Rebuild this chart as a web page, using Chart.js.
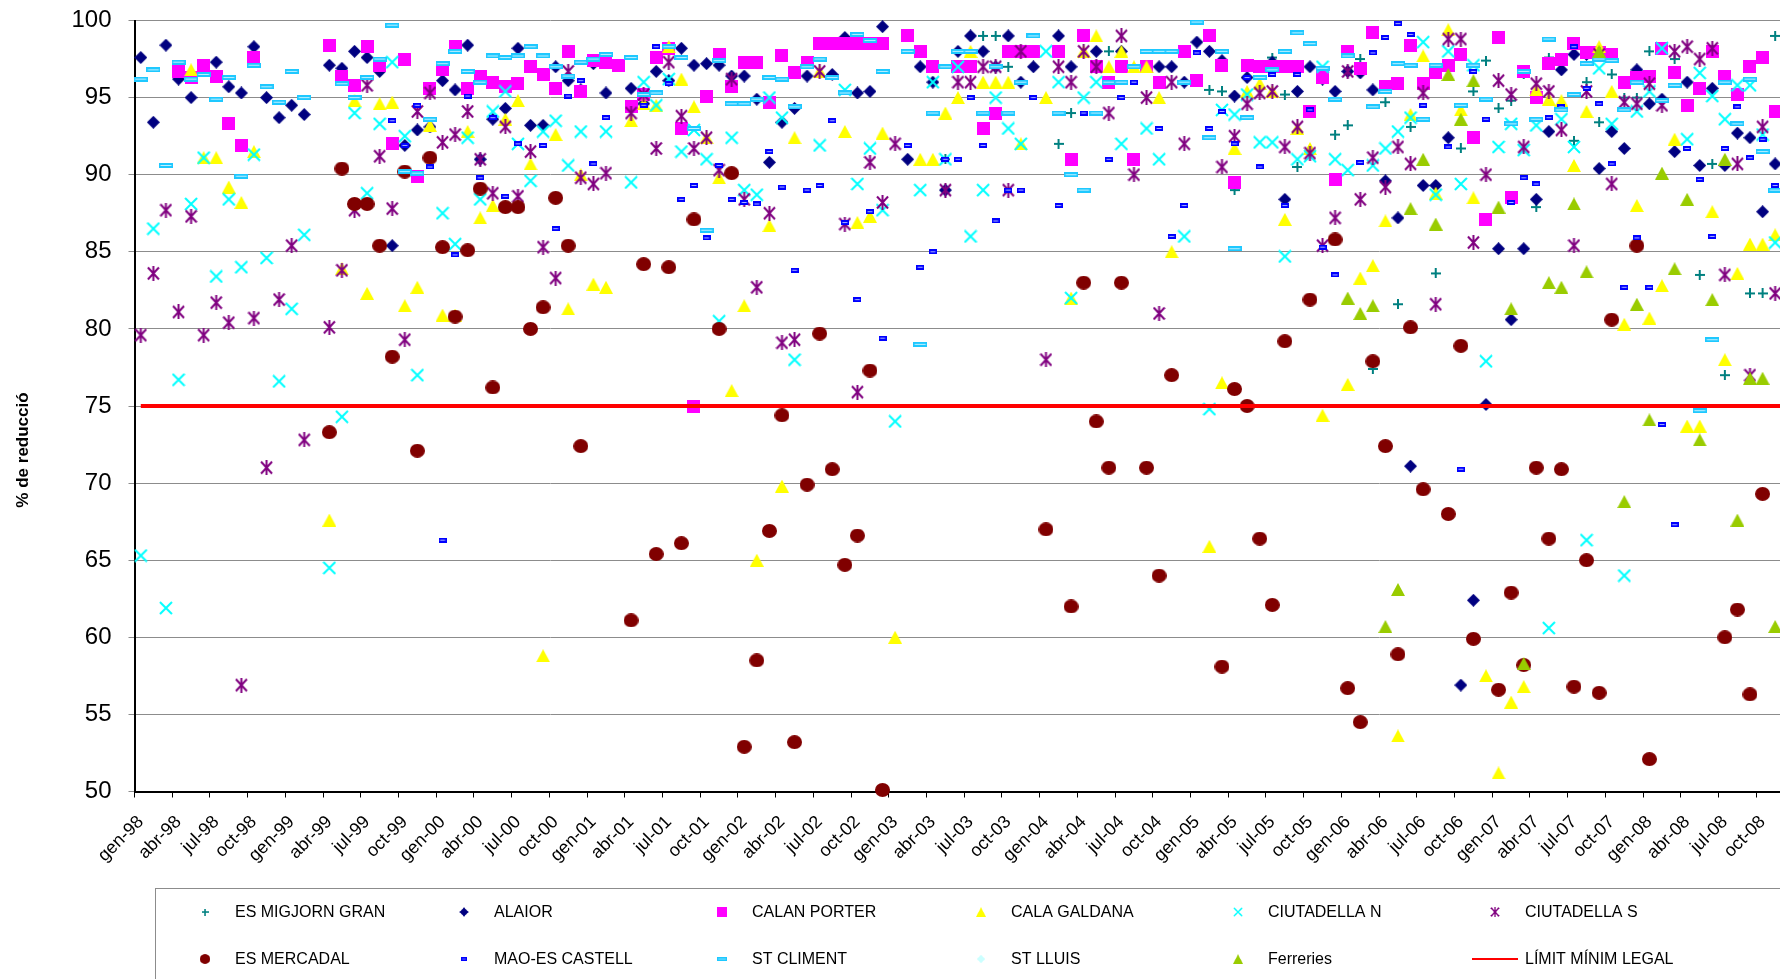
<!DOCTYPE html>
<html>
<head>
<meta charset="utf-8">
<script src="https://cdn.jsdelivr.net/npm/chart.js@4.4.1/dist/chart.umd.min.js"></script>
<style>
  html, body { margin: 0; padding: 0; background: #fff; overflow: hidden; }
  #wrap { position: relative; width: 1800px; height: 979px; }
</style>
</head>
<body>
<div id="wrap"><canvas id="chart" width="1800" height="979"></canvas></div>
<script>
"use strict";
const _ = null;

// eixos
const MONTHS = ["gen", "feb", "mar", "abr", "mai", "jun", "jul", "ago", "set", "oct", "nov", "des"];
const YEARS = ["98", "99", "00", "01", "02", "03", "04", "05", "06", "07", "08"];
const Y_MIN = 50;
const Y_MAX = 100;
const Y_STEP = 5;
const Y_TITLE = "% de reducció";
const LIMIT_LABEL = "LÍMIT MÍNIM LEGAL";
const LIMIT_VALUE = 75;

const LABELS = [];
YEARS.forEach((y) => MONTHS.forEach((m) => LABELS.push(m + "-" + y)));

// % de reducció per depuradora (una fila per any)
const esMigjornGran = [
  _, _, _, _, _, _, _, _, _, _, _, _,
  _, _, _, _, _, _, _, _, _, _, _, _,
  _, _, _, _, _, _, _, _, _, _, _, _,
  _, _, _, _, _, _, _, _, _, _, _, _,
  _, _, _, _, _, _, _, _, _, _, _, _,
  _, _, _, _, 91.0, _, _, 99.0, 99.0, 97.0, _, _,
  _, 92.0, 94.0, _, _, 98.0, _, _, _, _, _, _,
  _, 95.5, 95.4, 89.0, _, 97.1, 97.6, 95.2, 90.5, _, _, 92.6,
  93.2, 97.5, 77.4, 94.7, 81.6, 93.1, _, 83.6, _, 91.7, 95.4, 97.4,
  94.3, 94.8, 96.5, 87.9, 97.6, _, 92.2, 96.0, 93.4, 96.5, 95.0, 95.0,
  98.0, _, 97.5, _, 83.5, 90.7, 77.0, _, 82.3, 82.3, 99.0,
];
const alaior = [
  97.6, 93.4, 98.4, 96.2, 95.0, _, 97.3, 95.7, 95.3, 98.3, 95.0, 93.7,
  94.5, 93.9, _, 97.1, 96.9, 98.0, 97.6, 96.7, 85.4, 91.9, 92.9, 93.1,
  96.1, 95.5, 98.4, 91.0, 93.6, 94.3, 98.2, 93.2, 93.2, 97.0, 96.1, 95.5,
  97.2, 95.3, _, 95.6, 94.6, 96.7, 96.1, 98.2, 97.1, 97.2, 97.1, 96.4,
  96.4, 94.9, 90.8, 93.4, 94.3, 96.4, _, 96.5, 98.9, 95.3, 95.4, 99.6,
  _, 91.0, 97.0, 96.0, 89.0, 98.0, 99.0, 98.0, 97.0, 99.0, 96.0, 97.0,
  _, 99.0, 97.0, _, 98.0, _, 98.0, _, _, 97.0, 97.0, 96.0,
  98.6, 98.0, 97.4, 95.1, 96.3, _, 97.3, 88.4, 95.4, 97.0, 96.2, 95.4,
  96.7, 96.6, 95.5, 89.6, 87.2, 71.1, 89.3, 89.3, 92.4, 56.9, 62.4, 75.1,
  85.2, 80.6, 85.2, 88.4, 92.8, 96.8, 97.8, 97.8, 90.4, 92.8, 91.7, 96.8,
  94.6, 94.9, 91.5, 96.0, 90.6, 95.6, 90.6, 92.7, 92.4, 87.6, 90.7,
];
const calanPorter = [
  _, _, _, 96.7, 96.3, 97.1, 96.4, 93.3, 91.9, 97.6, _, _,
  _, _, _, 98.4, 96.4, 95.8, 98.3, 97.1, 92.0, 97.5, 89.9, 95.6,
  96.8, 98.3, 95.6, 96.4, 96.0, 95.7, 95.9, 97.0, 96.5, 95.6, 98.0, 95.4,
  97.4, 97.3, 97.1, 94.4, 95.2, 97.6, 98.2, 93.0, 75.0, 95.1, 97.8, 95.7,
  97.3, 97.3, 94.7, 97.7, 96.6, 97.3, 98.5, 98.5, 98.5, 98.5, 98.5, 98.5,
  _, 99.0, 98.0, 97.0, _, 97.0, 97.0, 93.0, 94.0, 98.0, 98.0, 98.0,
  _, 98.0, 91.0, 99.0, 97.0, 96.0, 97.0, 91.0, 97.0, 96.0, _, 98.0,
  96.1, 99.0, 97.1, 89.5, 97.1, 97.0, 97.0, 97.0, 97.0, 94.1, 96.3, 89.7,
  98.0, 96.9, 99.2, 95.7, 95.9, 98.4, 95.9, 96.6, 97.1, 97.8, 92.4, 87.1,
  98.9, 88.5, 96.7, 95.0, 97.2, 97.5, 98.5, 97.9, 97.9, 97.8, 96.0, 96.3,
  96.4, 98.2, 96.6, 94.5, 95.6, 98.0, 96.4, 95.2, 97.0, 97.6, 94.1,
];
const calaGaldana = [
  _, _, _, _, 96.8, 91.1, 91.1, 89.2, 88.2, 91.5, _, _,
  _, _, _, 67.6, 83.9, 94.8, 82.3, 94.6, 94.7, 81.5, 82.7, 93.2,
  80.9, 80.9, 92.8, 87.2, 88.0, 93.6, 94.8, 90.7, 58.8, 92.6, 81.3, 90.0,
  82.9, 82.7, _, 93.5, 94.6, 94.5, 98.3, 96.2, 94.4, 92.4, 89.8, 76.0,
  81.5, 65.0, 86.7, 69.8, 92.4, _, 96.7, _, 92.8, 86.9, 87.3, 92.7,
  60.0, _, 91.0, 91.0, 94.0, 95.0, 98.0, 96.0, 96.0, 96.0, 92.0, _,
  95.0, _, 82.0, 98.0, 99.0, 97.0, 98.0, 97.0, 97.0, 95.0, 85.0, _,
  _, 65.9, 76.5, 91.7, 95.4, 95.9, 95.4, 87.1, 93.0, 91.7, 74.4, _,
  76.4, 83.3, 84.1, 87.0, 53.6, 93.9, 97.7, 88.8, 99.4, 94.2, 88.5, 57.5,
  51.2, 55.8, 56.8, 95.5, 94.9, 94.8, 90.6, 94.1, 98.3, 95.4, 80.3, 88.0,
  80.7, 82.8, 92.3, 73.7, 73.7, 87.6, 78.0, 83.6, 85.5, 85.5, 86.1,
];
const ciutadellaN = [
  65.3, 86.5, 61.9, 76.7, 88.1, 91.1, 83.4, 88.4, 84.0, 91.3, 84.6, 76.6,
  81.3, 86.1, _, 64.5, 74.3, 94.0, 88.8, 93.3, 97.3, 92.5, 77.0, _,
  87.5, 85.5, 92.4, 88.4, 94.1, 95.4, 92.0, 89.6, 92.8, 93.5, 90.6, 92.8,
  _, 92.8, _, 89.5, 96.0, 94.5, 96.2, 91.5, 92.9, 91.0, 80.5, 92.4,
  89.0, 88.7, 95.0, 93.7, 78.0, _, 91.9, _, 95.5, 89.4, 91.7, 87.7,
  74.0, _, 89.0, 96.0, 91.0, 97.0, 86.0, 89.0, 95.0, 93.0, 92.0, _,
  98.0, 96.0, 82.0, 95.0, 96.0, _, 92.0, _, 93.0, 91.0, _, 86.0,
  _, 74.8, 94.2, 93.9, 95.2, 92.1, 92.1, 84.7, 91.0, 91.2, 97.0, 91.0,
  90.3, _, 90.6, 91.7, 92.8, 93.7, 98.6, 88.7, 98.0, 89.4, 97.1, 77.9,
  91.8, 93.3, 91.6, 93.2, 60.6, 93.6, 91.8, 66.3, 96.9, 93.3, 64.0, 94.1,
  95.4, 98.2, _, 92.3, 96.6, 95.1, 93.6, 95.8, 95.8, 92.6, 85.6,
];
const ciutadellaS = [
  79.6, 83.6, 87.7, 81.1, 87.3, 79.6, 81.7, 80.4, 56.9, 80.7, 71.0, 81.9,
  85.4, 72.8, _, 80.1, 83.8, 87.7, 95.8, 91.2, 87.8, 79.3, 94.1, 95.3,
  92.1, 92.6, 94.1, 91.0, 88.8, 93.1, 88.6, 91.5, 85.3, 83.3, 96.7, 89.8,
  89.4, 90.1, _, 94.0, 95.2, 91.7, 97.3, 93.8, 91.7, 92.4, 90.3, 96.2,
  88.4, 82.7, 87.5, 79.1, 79.3, _, 96.7, _, 86.8, 75.9, 90.8, 88.2,
  92.0, _, _, _, 89.0, 96.0, 96.0, 97.0, 97.0, 89.0, 98.0, _,
  78.0, 97.0, 96.0, 98.0, 97.0, 94.0, 99.0, 90.0, 95.0, 81.0, 96.0, 92.0,
  _, _, 90.5, 92.5, 94.6, 95.3, 95.4, 91.8, 93.1, 91.4, 85.4, 87.2,
  96.7, 88.4, 91.1, 89.2, 91.8, 90.7, 95.3, 81.6, 98.8, 98.8, 85.6, 90.0,
  96.1, 95.2, 91.8, 95.9, 95.4, 92.9, 85.4, 95.4, 97.8, 89.4, 94.7, 94.6,
  95.9, 94.5, 98.0, 98.3, 97.5, 98.2, 83.5, 90.7, 77.0, 93.1, 82.3,
];
const esMercadal = [
  _, _, _, _, _, _, _, _, _, _, _, _,
  _, _, _, 73.3, 90.4, 88.1, 88.1, 85.4, 78.2, 90.2, 72.1, 91.1,
  85.3, 80.8, 85.1, 89.1, 76.2, 87.9, 87.9, 80.0, 81.4, 88.5, 85.4, 72.4,
  _, _, _, 61.1, 84.2, 65.4, 84.0, 66.1, 87.1, _, 80.0, 90.1,
  52.9, 58.5, 66.9, 74.4, 53.2, 69.9, 79.7, 70.9, 64.7, 66.6, 77.3, 50.1,
  _, _, _, _, _, _, _, _, _, _, _, _,
  67.0, _, 62.0, 83.0, 74.0, 71.0, 83.0, _, 71.0, 64.0, 77.0, _,
  _, _, 58.1, 76.1, 75.0, 66.4, 62.1, 79.2, _, 81.9, _, 85.8,
  56.7, 54.5, 77.9, 72.4, 58.9, 80.1, 69.6, _, 68.0, 78.9, 59.9, _,
  56.6, 62.9, 58.2, 71.0, 66.4, 70.9, 56.8, 65.0, 56.4, 80.6, _, 85.4,
  52.1, _, _, _, _, _, 60.0, 61.8, 56.3, 69.3, _,
];
const maoEsCastell = [
  _, _, _, _, _, _, _, _, _, _, _, _,
  _, _, _, _, _, _, _, _, 93.5, 91.9, 94.5, 90.5,
  66.3, 84.8, 95.1, 89.8, 93.7, 88.6, 92.0, _, 91.9, 86.5, 95.1, 96.1,
  90.7, 93.7, _, _, 94.5, 98.3, 95.9, 88.4, 89.3, 85.9, 90.6, 88.4,
  88.2, 88.1, 91.5, 89.2, 83.8, 89.0, 89.3, 93.5, 86.9, 81.9, 87.6, 79.4,
  _, 91.9, 84.0, 85.0, 91.0, 91.0, 95.0, 91.9, 87.0, 89.0, 89.0, 95.0,
  _, 88.0, 90.0, 94.0, 94.0, 91.0, 95.0, 96.0, _, 93.0, 86.0, 88.0,
  97.9, 93.0, 94.1, 92.0, 96.3, 90.5, 96.5, 88.0, 96.5, 94.2, 85.3, 83.5,
  _, 90.8, 97.9, 98.9, 99.8, 99.1, 94.5, 97.1, 91.8, 70.9, 96.7, 93.6,
  _, 88.2, 89.8, 89.4, 93.7, 94.4, 98.3, 95.6, 94.6, 90.7, 82.7, 85.9,
  82.7, 73.8, 67.3, 91.7, 89.7, 86.0, 91.7, 94.4, 91.1, 92.3, 89.3,
];
const stCliment = [
  96.2, 96.8, 90.6, 97.3, 96.2, 96.5, 94.9, 96.3, 89.9, 97.1, 95.7, 94.7,
  96.7, 95.0, _, _, 95.9, 95.0, 96.3, 97.5, 99.7, 90.2, 90.1, 93.6,
  97.2, 98.0, 96.7, 96.0, 97.7, 97.6, 97.7, 98.3, 97.7, 97.0, 96.4, 97.3,
  97.5, 97.8, _, 97.6, 95.2, 95.3, 98.3, 97.6, 93.0, 86.4, 97.4, 94.6,
  94.6, 94.9, 96.3, 96.2, 94.4, 97.0, 97.5, 96.3, 95.3, 99.1, 98.7, 96.7,
  _, 98.0, 79.0, 94.0, 97.0, 98.0, 98.0, 94.0, 97.0, 94.0, 96.0, 99.0,
  _, 94.0, 90.0, 89.0, 94.0, 96.0, 96.0, 97.0, 98.0, 98.0, 98.0, 96.0,
  99.9, 92.4, 98.0, 85.2, 93.7, 96.3, 96.8, 98.0, 99.2, 98.5, 96.9, 94.9,
  97.7, _, 94.4, 95.4, 97.2, 97.1, 93.6, 97.1, _, 94.5, 97.1, 94.9,
  _, 93.3, 96.7, 93.6, 98.8, 94.2, 95.2, 97.2, 97.5, 97.4, 94.2, 96.0,
  _, 94.8, 95.8, _, 74.7, 79.3, 96.0, 93.3, 96.2, 91.5, 89.0,
];
const stLluis = [];
const ferreries = [
  _, _, _, _, _, _, _, _, _, _, _, _,
  _, _, _, _, _, _, _, _, _, _, _, _,
  _, _, _, _, _, _, _, _, _, _, _, _,
  _, _, _, _, _, _, _, _, _, _, _, _,
  _, _, _, _, _, _, _, _, _, _, _, _,
  _, _, _, _, _, _, _, _, _, _, _, _,
  _, _, _, _, _, _, _, _, _, _, _, _,
  _, _, _, _, _, _, _, _, _, _, _, _,
  82.0, 81.0, 81.5, 60.7, 63.1, 87.8, 91.0, 86.8, 96.5, 93.6, 96.1, _,
  87.9, 81.3, 58.3, _, 83.0, 82.7, 88.1, 83.7, 98.0, _, 68.8, 81.6,
  74.1, 90.1, 83.9, 88.4, 72.8, 81.9, 91.0, 67.6, 76.8, 76.8, 60.7,
];

// marcadors a l'estil d'Excel
function marker(w, h, paint) {
  const c = document.createElement("canvas");
  c.width = w;
  c.height = h;
  paint(c.getContext("2d"), w, h);
  return c;
}
function lines(color, width, segs) {
  return (g) => {
    g.strokeStyle = color;
    g.lineWidth = width;
    g.beginPath();
    segs.forEach((s) => {
      g.moveTo(s[0], s[1]);
      g.lineTo(s[2], s[3]);
    });
    g.stroke();
  };
}
function poly(color, pts) {
  return (g) => {
    g.fillStyle = color;
    g.beginPath();
    pts.forEach((p, k) => (k ? g.lineTo(p[0], p[1]) : g.moveTo(p[0], p[1])));
    g.closePath();
    g.fill();
  };
}
function dash(outer, inner, w, h) {
  return marker(w, h, (g) => {
    g.fillStyle = outer;
    g.fillRect(0, 0, w, h);
    g.fillStyle = inner;
    g.fillRect(1.5, h / 2 - 0.5, w - 3, 1);
  });
}

const MARKERS = [
  marker(10, 10, lines("#008080", 2, [[5, 0, 5, 10], [0, 5, 10, 5]])),
  marker(13, 13, poly("#000080", [[6.5, 0], [13, 6.5], [6.5, 13], [0, 6.5]])),
  marker(13, 13, poly("#FF00FF", [[0, 0], [13, 0], [13, 13], [0, 13]])),
  marker(14, 13, poly("#FFFF00", [[7, 0], [14, 13], [0, 13]])),
  marker(14, 14, lines("#00FFFF", 2, [[1, 1, 13, 13], [13, 1, 1, 13]])),
  marker(13, 15, lines("#800080", 2, [[1, 1.5, 12, 13.5], [12, 1.5, 1, 13.5], [6.5, 0, 6.5, 15]])),
  marker(15, 14, (g) => {
    g.fillStyle = "#800000";
    g.beginPath();
    g.ellipse(7.5, 7, 7.5, 7, 0, 0, Math.PI * 2);
    g.fill();
  }),
  dash("#0000FF", "#AAB4FF", 8, 5),
  dash("#1EC8FF", "#BFF0FF", 14, 5),
  marker(12, 12, poly("#CCFFFF", [[6, 0], [12, 6], [6, 12], [0, 6]])),
  marker(14, 13, poly("#99CC00", [[7, 0], [14, 13], [0, 13]])),
];

const SERIES = [
  { name: "ES MIGJORN GRAN", values: esMigjornGran },
  { name: "ALAIOR", values: alaior },
  { name: "CALAN PORTER", values: calanPorter },
  { name: "CALA GALDANA", values: calaGaldana },
  { name: "CIUTADELLA N", values: ciutadellaN },
  { name: "CIUTADELLA S", values: ciutadellaS },
  { name: "ES MERCADAL", values: esMercadal },
  { name: "MAO-ES CASTELL", values: maoEsCastell },
  { name: "ST CLIMENT", values: stCliment },
  { name: "ST LLUIS", values: stLluis },
  { name: "Ferreries", values: ferreries },
];

const datasets = SERIES.map((s, i) => ({
  label: s.name,
  data: s.values,
  showLine: false,
  pointStyle: MARKERS[i],
  pointRadius: 5,
  pointHoverRadius: 5,
  clip: false,
  order: SERIES.length + 1 - i,
}));
datasets.push({
  label: LIMIT_LABEL,
  data: [
    { x: LABELS[0], y: LIMIT_VALUE },
    { x: LABELS[LABELS.length - 1], y: LIMIT_VALUE },
  ],
  borderColor: "#FF0000",
  borderWidth: 4,
  pointRadius: 0,
  order: 0,
});

const FONT = "'Liberation Sans', Arial, sans-serif";
const LEGEND_COL_X = [205, 464, 722, 981, 1238, 1495];
const LEGEND_ROW_Y = [912, 959];

const excelLegend = {
  id: "excelLegend",
  afterDraw(chart) {
    const c = chart.ctx;
    c.save();
    // títol de l'eix Y
    c.translate(23, 450);
    c.rotate(-Math.PI / 2);
    c.font = "bold 17px " + FONT;
    c.fillStyle = "#000";
    c.textAlign = "center";
    c.textBaseline = "middle";
    c.fillText(Y_TITLE, 0, 0);
    c.restore();

    c.save();
    c.strokeStyle = "#8c8c8c";
    c.lineWidth = 1;
    c.strokeRect(155.5, 888.5, 1700, 200);
    c.font = "16px " + FONT;
    c.fillStyle = "#000";
    c.textBaseline = "middle";
    datasets.forEach((ds, k) => {
      const mx = LEGEND_COL_X[k % 6];
      const my = LEGEND_ROW_Y[Math.floor(k / 6)];
      if (ds.pointStyle) {
        const img = ds.pointStyle;
        const w = img.width * 0.7;
        const h = img.height * 0.7;
        c.drawImage(img, mx - w / 2, my - h / 2, w, h);
      } else {
        c.strokeStyle = ds.borderColor;
        c.lineWidth = 2;
        c.beginPath();
        c.moveTo(mx - 23, my);
        c.lineTo(mx + 23, my);
        c.stroke();
      }
      c.fillText(ds.label, mx + 30, my + 1);
    });
    c.restore();
  },
};

new Chart(document.getElementById("chart"), {
  type: "line",
  data: { labels: LABELS, datasets: datasets },
  options: {
    responsive: false,
    animation: false,
    devicePixelRatio: 1,
    layout: { padding: { top: 20.5, right: 5.9, left: 0, bottom: 0 } },
    plugins: { legend: { display: false }, tooltip: { enabled: false } },
    scales: {
      x: {
        offset: true,
        grid: {
          offset: true,
          drawOnChartArea: false,
          drawTicks: true,
          tickLength: 6,
          color: (ctx) => (ctx.index % 3 === 0 ? "#000" : "rgba(0,0,0,0)"),
        },
        border: { display: true, color: "#000", width: 2 },
        ticks: {
          autoSkip: false,
          minRotation: 45,
          maxRotation: 45,
          padding: 14,
          color: "#000",
          font: { family: FONT, size: 18 },
          callback: (v, i) => (i % 3 === 0 ? LABELS[i] : ""),
        },
        afterFit(scale) {
          scale.height = 187.5;
          scale.paddingLeft = 0;
          scale.paddingRight = 0;
        },
      },
      y: {
        min: Y_MIN,
        max: Y_MAX,
        grid: { color: "#8c8c8c", lineWidth: 1, tickLength: 6 },
        border: { display: true, color: "#000", width: 2 },
        ticks: {
          stepSize: Y_STEP,
          padding: 17,
          color: "#000",
          font: { family: FONT, size: 24 },
        },
        afterFit(scale) {
          scale.width = 134.5;
          scale.paddingTop = 0;
          scale.paddingBottom = 0;
        },
      },
    },
  },
  plugins: [excelLegend],
});
</script>
</body>
</html>
